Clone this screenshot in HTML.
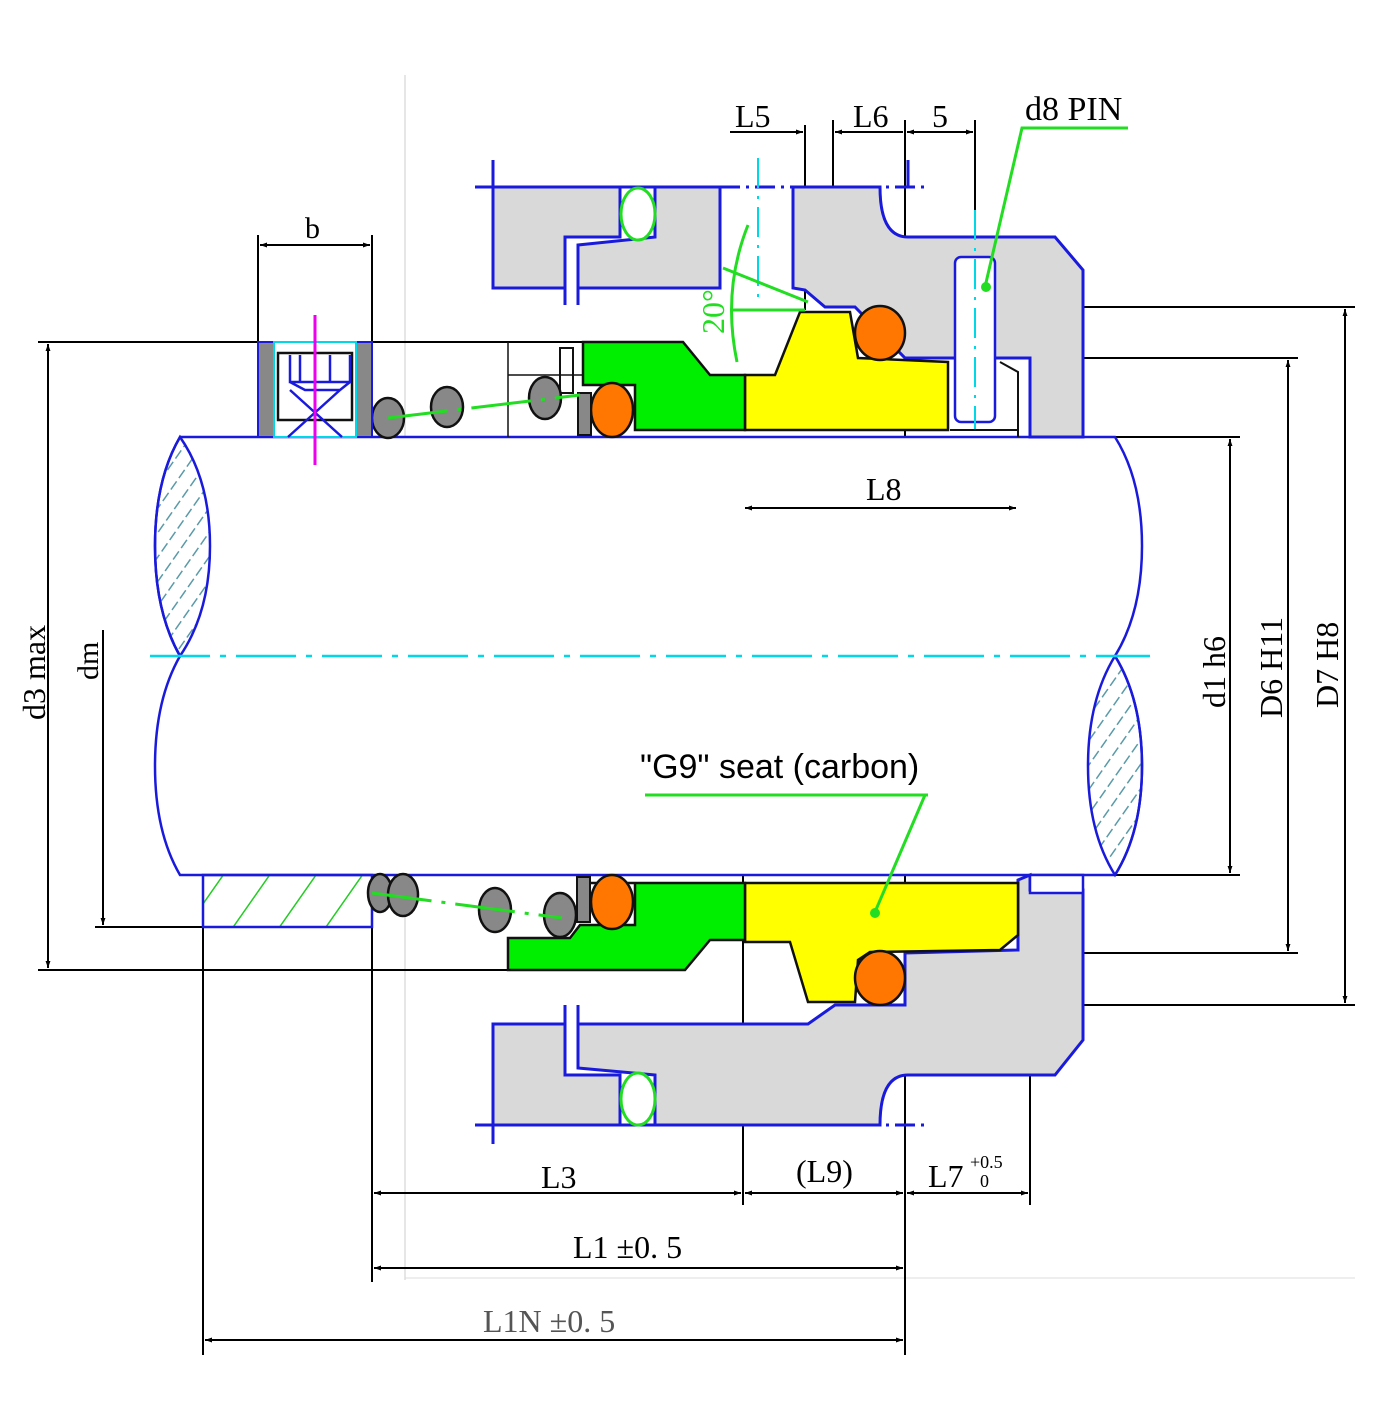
<!DOCTYPE html>
<html><head><meta charset="utf-8"><style>html,body{margin:0;padding:0;background:#fff}svg{display:block}</style></head><body>
<svg width="1374" height="1414" viewBox="0 0 1374 1414" xmlns="http://www.w3.org/2000/svg" font-family="Liberation Serif, serif">
<defs>
<marker id="a" viewBox="0 0 10 10" refX="10" refY="5" markerWidth="20" markerHeight="7" markerUnits="userSpaceOnUse" orient="auto-start-reverse"><path d="M0,1.5 L10,5 L0,8.5 z" fill="#000"/></marker>
<pattern id="h" width="14" height="14" patternUnits="userSpaceOnUse" patternTransform="rotate(35)"><line x1="0" y1="0" x2="0" y2="14" stroke="#5a9aa8" stroke-width="3" stroke-dasharray="9 4"/></pattern>
<pattern id="hg" width="38" height="40" patternUnits="userSpaceOnUse" patternTransform="rotate(35)"><line x1="0" y1="0" x2="0" y2="40" stroke="#22cc22" stroke-width="3"/></pattern>
</defs>
<line x1="405" y1="75" x2="405" y2="1280" stroke="#ccc" stroke-width="1"/>
<line x1="405" y1="1278" x2="1355" y2="1278" stroke="#ddd" stroke-width="1"/>

<g stroke="#000" stroke-width="2" fill="none">
<line x1="38" y1="342" x2="583" y2="342"/>
<line x1="38" y1="970" x2="508" y2="970"/>
<line x1="95" y1="927" x2="203" y2="927"/>
<line x1="1115" y1="437" x2="1240" y2="437"/>
<line x1="1115" y1="875" x2="1240" y2="875"/>
<line x1="1030" y1="358" x2="1298" y2="358"/>
<line x1="905" y1="953" x2="1298" y2="953"/>
<line x1="905" y1="307" x2="1355" y2="307"/>
<line x1="905" y1="1005" x2="1355" y2="1005"/>
<line x1="258" y1="235" x2="258" y2="342"/>
<line x1="372" y1="235" x2="372" y2="342"/>
<line x1="805" y1="125" x2="805" y2="310"/>
<line x1="833" y1="120" x2="833" y2="305"/>
<line x1="905" y1="120" x2="905" y2="1355"/>
<line x1="975" y1="120" x2="975" y2="240"/>
<line x1="743" y1="437" x2="743" y2="520"/>
<line x1="743" y1="875" x2="743" y2="1205"/>
<line x1="1018" y1="437" x2="1018" y2="520"/>
<line x1="1030" y1="875" x2="1030" y2="1205"/>
<line x1="372" y1="875" x2="372" y2="1282"/>
<line x1="203" y1="875" x2="203" y2="1355"/>
</g>

<path d="M180,437 L1115,437 Q1142,480 1142,546 Q1142,612 1115,656 Q1142,700 1142,766 Q1142,832 1115,875 L180,875 Q155,832 155,766 Q155,700 180,656 Q155,612 155,546 Q155,480 180,437 Z" fill="#fff" stroke="#1a1adc" stroke-width="2.5"/>
<path d="M180,437 Q155,480 155,546 Q155,612 180,656 Q210,612 210,546 Q210,480 180,437 Z" fill="url(#h)" stroke="#1a1adc" stroke-width="2.5"/>
<path d="M1115,656 Q1088,700 1088,766 Q1088,832 1115,875 Q1142,832 1142,766 Q1142,700 1115,656 Z" fill="url(#h)" stroke="#1a1adc" stroke-width="2.5"/>
<line x1="150" y1="656" x2="1150" y2="656" stroke="#00d8e8" stroke-width="2.5" stroke-dasharray="60 10 6 10"/>

<g stroke="#1a1adc" stroke-width="3">
<path d="M493,187 L620,187 L620,237 L565,237 L565,288 L493,288 Z" fill="#d9d9d9"/>
<path d="M620,187 L720,187 L720,288 L578,288 L578,245 L655,237 L655,187" fill="#d9d9d9"/>
<path d="M793,187 L880,187 Q880,237 908,237 L1055,237 L1083,270 L1083,437 L1030,437 L1030,358 L905,358 L855,307 L825,307 L805,290 L793,288 Z" fill="#d9d9d9"/>
<line x1="475" y1="187" x2="928" y2="187" stroke-dasharray="20 6 3 6"/>
<line x1="493" y1="160" x2="493" y2="288" stroke-dasharray="30 6 3 6"/>
<line x1="565" y1="288" x2="565" y2="305"/><line x1="578" y1="288" x2="578" y2="305"/>
<line x1="908" y1="160" x2="908" y2="187"/>
</g>
<rect x="955" y="257" width="40" height="165" rx="6" fill="#fff" stroke="#1a1adc" stroke-width="2.5"/>
<line x1="975" y1="210" x2="975" y2="430" stroke="#00d8e8" stroke-width="2" stroke-dasharray="30 8 3 8"/>
<line x1="758" y1="158" x2="758" y2="300" stroke="#00d8e8" stroke-width="2" stroke-dasharray="30 8 3 8"/>
<ellipse cx="638" cy="214" rx="17" ry="26" fill="#fff" stroke="#22dd22" stroke-width="3"/>

<path d="M745,375 L775,375 L800,312 L850,312 L858,358 L948,362 L948,430 L745,430 Z" fill="#ffff00" stroke="#111" stroke-width="2.5"/>
<ellipse cx="880" cy="333" rx="25" ry="27" fill="#ff7700" stroke="#111" stroke-width="2.5"/>
<path d="M583,342 L683,342 L710,375 L745,375 L745,430 L635,430 L635,385 L583,385 Z" fill="#00ee00" stroke="#111" stroke-width="2.5"/>
<ellipse cx="612" cy="410" rx="21" ry="27" fill="#ff7700" stroke="#111" stroke-width="2.5"/>
<rect x="578" y="393" width="13" height="42" fill="#888" stroke="#111" stroke-width="2"/>
<rect x="560" y="348" width="13" height="45" fill="#fff" stroke="#111" stroke-width="2"/>
<path d="M508,342 L508,437 M508,375 L583,375" stroke="#111" stroke-width="1.5" fill="none"/>
<line x1="950" y1="430" x2="1018" y2="430" stroke="#111" stroke-width="2"/>
<path d="M1000,362 L1018,372 L1018,437" stroke="#111" stroke-width="2" fill="none"/>

<g fill="#888" stroke="#111" stroke-width="2.5">
<ellipse cx="388" cy="418" rx="16" ry="20"/>
<ellipse cx="447" cy="407" rx="16" ry="20"/>
<ellipse cx="545" cy="398" rx="16" ry="21"/>
</g>
<line x1="388" y1="418" x2="580" y2="395" stroke="#22dd22" stroke-width="3" stroke-dasharray="60 10 4 10"/>

<rect x="258" y="342" width="114" height="95" fill="#888" stroke="#1a1adc" stroke-width="2"/>
<rect x="274" y="342" width="82" height="95" fill="#fff" stroke="#00d8e8" stroke-width="2"/>
<rect x="278" y="353" width="74" height="67" fill="#fff" stroke="#111" stroke-width="2.5"/>
<path d="M290,355 L290,382 L350,382 L350,355 M300,355 L300,382 M315,355 L315,382 M330,355 L330,382 M290,382 L305,390 L340,390 L350,382 M288,437 L340,390 M342,437 L290,390" stroke="#1a1adc" stroke-width="2.5" fill="none"/>
<line x1="315" y1="315" x2="315" y2="465" stroke="#ee00ee" stroke-width="3"/>

<g stroke="#1a1adc" stroke-width="3">
<path d="M493,1125 L620,1125 L620,1075 L565,1075 L565,1024 L493,1024 Z" fill="#d9d9d9"/>
<path d="M620,1125 L880,1125 Q880,1075 908,1075 L1055,1075 L1083,1040 L1083,890 L1030,890 L1030,875 L1018,880 L1018,950 L905,953 L905,1005 L835,1005 L808,1024 L578,1024 L578,1068 L655,1075 L655,1125" fill="#d9d9d9"/>
<line x1="475" y1="1125" x2="928" y2="1125" stroke-dasharray="20 6 3 6"/>
<line x1="493" y1="1024" x2="493" y2="1150" stroke-dasharray="30 6 3 6"/>
<line x1="565" y1="1005" x2="565" y2="1024"/><line x1="578" y1="1005" x2="578" y2="1024"/>
</g>
<ellipse cx="638" cy="1099" rx="17" ry="26" fill="#fff" stroke="#22dd22" stroke-width="3"/>
<rect x="1030" y="875" width="53" height="18" fill="#fff" stroke="#1a1adc" stroke-width="2.5"/>

<rect x="203" y="875" width="169" height="52" fill="url(#hg)" stroke="#1a1adc" stroke-width="2.5"/>

<path d="M745,883 L1018,883 L1018,935 L1000,950 L870,952 L858,960 L855,1002 L808,1002 L790,942 L745,942 Z" fill="#ffff00" stroke="#111" stroke-width="2.5"/>
<ellipse cx="880" cy="978" rx="25" ry="27" fill="#ff7700" stroke="#111" stroke-width="2.5"/>
<path d="M590,883 L745,883 L745,940 L710,940 L685,970 L508,970 L508,938 L570,938 L580,925 L635,925 L635,883 Z" fill="#00ee00" stroke="#111" stroke-width="2.5"/>
<ellipse cx="612" cy="902" rx="21" ry="27" fill="#ff7700" stroke="#111" stroke-width="2.5"/>
<rect x="577" y="877" width="13" height="45" fill="#888" stroke="#111" stroke-width="2"/>
<g fill="#888" stroke="#111" stroke-width="2.5">
<ellipse cx="380" cy="893" rx="12" ry="19"/>
<ellipse cx="403" cy="895" rx="15" ry="21"/>
<ellipse cx="495" cy="910" rx="16" ry="22"/>
<ellipse cx="560" cy="915" rx="16" ry="22"/>
</g>
<line x1="372" y1="893" x2="562" y2="918" stroke="#22dd22" stroke-width="3" stroke-dasharray="60 10 4 10"/>

<g stroke="#22dd22" stroke-width="3" fill="none">
<path d="M1128,128 L1022,128 L985,287"/>
<path d="M928,795 L645,795 M925,795 L875,912"/>
<line x1="730" y1="310" x2="805" y2="310"/>
<line x1="723" y1="268" x2="808" y2="302"/>
<path d="M748,225 Q722,290 737,362"/>
</g>
<circle cx="986" cy="287" r="5" fill="#22dd22"/>
<circle cx="875" cy="913" r="5" fill="#22dd22"/>
<text x="0" y="0" fill="#22dd22" font-size="32" transform="translate(724,334) rotate(-90)">20°</text>

<g stroke="#000" stroke-width="2" fill="none">
<line x1="260" y1="245" x2="370" y2="245" marker-start="url(#a)" marker-end="url(#a)"/>
<line x1="730" y1="132" x2="803" y2="132" marker-end="url(#a)"/>
<line x1="835" y1="132" x2="903" y2="132" marker-start="url(#a)"/>
<line x1="907" y1="132" x2="973" y2="132" marker-start="url(#a)" marker-end="url(#a)"/>
<line x1="745" y1="508" x2="1016" y2="508" marker-start="url(#a)" marker-end="url(#a)"/>
<line x1="374" y1="1193" x2="741" y2="1193" marker-start="url(#a)" marker-end="url(#a)"/>
<line x1="745" y1="1193" x2="903" y2="1193" marker-start="url(#a)" marker-end="url(#a)"/>
<line x1="907" y1="1193" x2="1028" y2="1193" marker-start="url(#a)" marker-end="url(#a)"/>
<line x1="374" y1="1268" x2="903" y2="1268" marker-start="url(#a)" marker-end="url(#a)"/>
<line x1="205" y1="1340" x2="903" y2="1340" marker-start="url(#a)" marker-end="url(#a)"/>
<line x1="48" y1="344" x2="48" y2="968" marker-start="url(#a)" marker-end="url(#a)"/>
<line x1="103" y1="630" x2="103" y2="925" marker-end="url(#a)"/>
<line x1="1230" y1="439" x2="1230" y2="873" marker-start="url(#a)" marker-end="url(#a)"/>
<line x1="1288" y1="360" x2="1288" y2="951" marker-start="url(#a)" marker-end="url(#a)"/>
<line x1="1345" y1="309" x2="1345" y2="1003" marker-start="url(#a)" marker-end="url(#a)"/>
</g>

<g fill="#000" font-size="32">
<text x="305" y="238" font-size="30">b</text>
<text x="735" y="127">L5</text>
<text x="853" y="127">L6</text>
<text x="932" y="127">5</text>
<text x="1025" y="120" font-size="34">d8 PIN</text>
<text x="866" y="500">L8</text>
<text x="541" y="1188">L3</text>
<text x="796" y="1182">(L9)</text>
<text x="928" y="1187">L7</text>
<text x="970" y="1168" font-size="18">+0.5</text>
<text x="980" y="1187" font-size="18">0</text>
<text x="573" y="1258">L1  ±0. 5</text>
<text x="483" y="1332" fill="#555">L1N  ±0. 5</text>
<text transform="translate(45,720) rotate(-90)">d3  max</text>
<text font-size="30" transform="translate(98,680) rotate(-90)">dm</text>
<text transform="translate(1225,708) rotate(-90)">d1  h6</text>
<text transform="translate(1282,718) rotate(-90)">D6  H11</text>
<text transform="translate(1338,708) rotate(-90)">D7  H8</text>
<text x="640" y="778" font-family="Liberation Sans, sans-serif" font-size="34">"G9" seat (carbon)</text>
</g>
</svg>
</body></html>
